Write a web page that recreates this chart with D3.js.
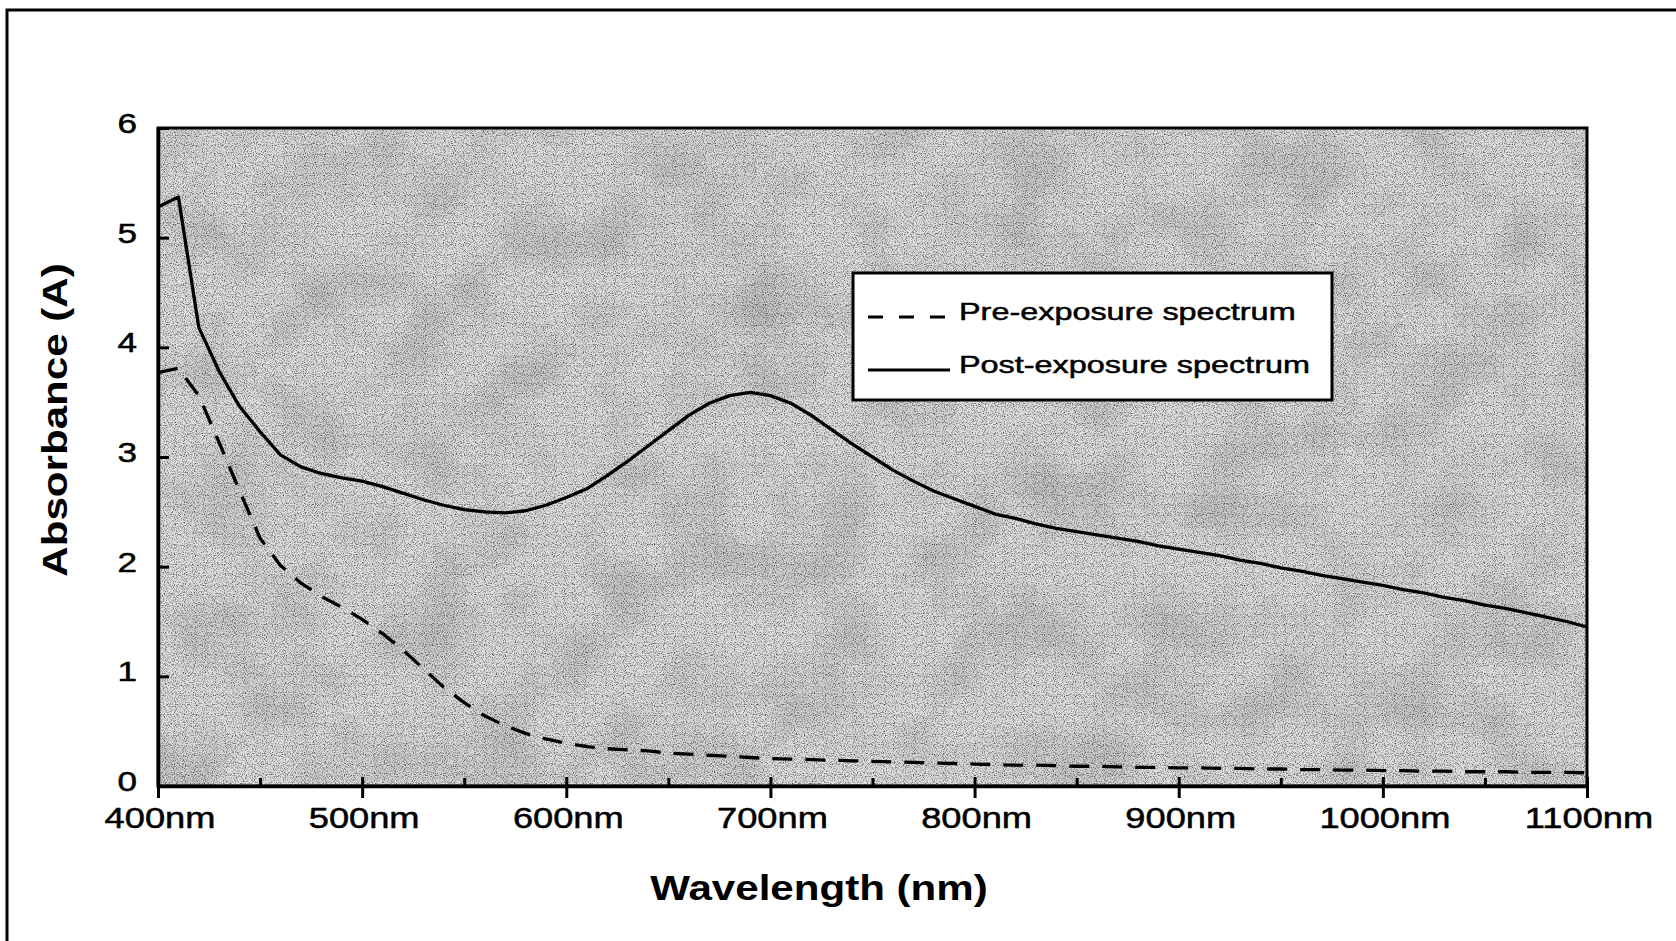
<!DOCTYPE html>
<html>
<head>
<meta charset="utf-8">
<script src="https://cdn.jsdelivr.net/npm/d3@7/dist/d3.min.js"></script>
<style>
  html, body { margin: 0; padding: 0; background: #ffffff; }
  svg { display: block; }
  text { font-family: "Liberation Sans", Arial, Helvetica, sans-serif; fill: #000; }
  .heavy { stroke: #000; stroke-width: 0.5px; }
</style>
</head>
<body>
<svg id="chart" width="1676" height="941"></svg>
<script>
// Wavelength grid (nm)
const wavelengths = [
  400, 410, 420, 430, 440, 450, 460, 470, 480, 490,
  500, 510, 520, 530, 540, 550, 560, 570, 580, 590,
  600, 610, 620, 630, 640, 650, 660, 670, 680, 690,
  700, 710, 720, 730, 740, 750, 760, 770, 780, 790,
  800, 810, 820, 830, 840, 850, 860, 870, 880, 890,
  900, 910, 920, 930, 940, 950, 960, 970, 980, 990,
  1000, 1010, 1020, 1030, 1040, 1050, 1060, 1070, 1080, 1090,
  1100
];

// Absorbance before exposure
const preExposure = [
  3.77, 3.81, 3.56, 3.13, 2.69, 2.26, 2.01, 1.85, 1.73, 1.63,
  1.52, 1.39, 1.24, 1.07, 0.90, 0.76, 0.64, 0.55, 0.48, 0.43,
  0.39, 0.36, 0.34, 0.33, 0.32, 0.30, 0.29, 0.28, 0.27, 0.26,
  0.25, 0.245, 0.24, 0.235, 0.23, 0.225, 0.22, 0.215, 0.21, 0.205,
  0.20, 0.195, 0.19, 0.19, 0.185, 0.18, 0.18, 0.175, 0.17, 0.17,
  0.165, 0.165, 0.16, 0.16, 0.155, 0.155, 0.15, 0.15, 0.145, 0.145,
  0.14, 0.14, 0.135, 0.135, 0.13, 0.13, 0.13, 0.125, 0.125, 0.125,
  0.12
];

// Absorbance after exposure
const postExposure = [
  5.28, 5.37, 4.18, 3.78, 3.46, 3.23, 3.02, 2.91, 2.85, 2.81,
  2.78, 2.73, 2.67, 2.61, 2.56, 2.52, 2.50, 2.49, 2.51, 2.56,
  2.63, 2.71, 2.83, 2.96, 3.10, 3.24, 3.38, 3.49, 3.56, 3.59,
  3.56, 3.49, 3.38, 3.25, 3.12, 3.00, 2.88, 2.78, 2.69, 2.62,
  2.55, 2.48, 2.44, 2.39, 2.35, 2.32, 2.29, 2.26, 2.23, 2.19,
  2.16, 2.13, 2.10, 2.06, 2.03, 1.99, 1.96, 1.92, 1.89, 1.86,
  1.83, 1.79, 1.76, 1.72, 1.69, 1.65, 1.62, 1.58, 1.54, 1.50,
  1.45
];

const xMajorTicks = [400, 500, 600, 700, 800, 900, 1000, 1100];
const xMinorTicks = [450, 550, 650, 750, 850, 950, 1050];
const xTickLabels = ["400nm", "500nm", "600nm", "700nm", "800nm", "900nm", "1000nm", "1100nm"];
const yTicks = [0, 1, 2, 3, 4, 5, 6];
const seriesNames = ["Pre-exposure spectrum", "Post-exposure spectrum"];
const xTitle = "Wavelength (nm)";
const yTitle = "Absorbance (A)";

const svg = d3.select("#chart");

// Plot area
const plot = { left: 158, right: 1587, top: 128, bottom: 786 };
const x = d3.scaleLinear().domain([400, 1100]).range([plot.left, plot.right]);
const y = d3.scaleLinear().domain([0, 6]).range([plot.bottom, plot.top]);

// Stippled grey fill for the plotting area
const defs = svg.append("defs");
const grain = defs.append("filter").attr("id", "grain")
  .attr("x", 0).attr("y", 0).attr("width", "100%").attr("height", "100%");
grain.append("feTurbulence").attr("type", "fractalNoise")
  .attr("baseFrequency", 0.9).attr("numOctaves", 1).attr("seed", 7).attr("result", "fine");
grain.append("feColorMatrix").attr("in", "fine").attr("type", "matrix")
  .attr("values", "0 0 0 0 0  0 0 0 0 0  0 0 0 0 0  2.0 0 0 0 -0.93").attr("result", "dots");
grain.append("feTurbulence").attr("type", "fractalNoise")
  .attr("baseFrequency", 0.015).attr("numOctaves", 2).attr("seed", 11).attr("result", "coarse");
grain.append("feColorMatrix").attr("in", "coarse").attr("type", "matrix")
  .attr("values", "0 0 0 0 0  0 0 0 0 0  0 0 0 0 0  0.25 0 0 0 -0.1").attr("result", "blotch");
grain.append("feMerge").selectAll("feMergeNode")
  .data(["blotch", "dots"]).join("feMergeNode").attr("in", d => d);

svg.append("rect")
  .attr("x", x(400)).attr("y", y(6))
  .attr("width", x(1100) - x(400)).attr("height", y(0) - y(6))
  .attr("fill", "#e0e0e0");
svg.append("rect")
  .attr("x", x(400)).attr("y", y(6))
  .attr("width", x(1100) - x(400)).attr("height", y(0) - y(6))
  .attr("fill", "#000").attr("filter", "url(#grain)");

// Outer figure frame (top and left edges visible)
svg.append("path")
  .attr("d", "M7,941 L7,10 L1676,10")
  .attr("fill", "none").attr("stroke", "#000").attr("stroke-width", 3);

// Plot border
svg.append("rect")
  .attr("x", x(400)).attr("y", y(6))
  .attr("width", x(1100) - x(400)).attr("height", y(0) - y(6))
  .attr("fill", "none").attr("stroke", "#000").attr("stroke-width", 3);

// X axis: major ticks cross the axis, minor ticks point inward
const xAxisMajor = svg.append("g")
  .attr("transform", `translate(0,${plot.bottom})`)
  .call(d3.axisBottom(x).tickValues(xMajorTicks).tickSizeInner(12).tickSizeOuter(0).tickFormat(""));
xAxisMajor.select(".domain").attr("stroke", "#000").attr("stroke-width", 3.5);
xAxisMajor.selectAll(".tick line").attr("y1", -9).attr("stroke", "#000").attr("stroke-width", 3);

const xAxisMinor = svg.append("g")
  .attr("transform", `translate(0,${plot.bottom})`)
  .call(d3.axisTop(x).tickValues(xMinorTicks).tickSizeInner(8).tickSizeOuter(0).tickFormat(""));
xAxisMinor.select(".domain").remove();
xAxisMinor.selectAll(".tick line").attr("stroke", "#000").attr("stroke-width", 3);

// Y axis ticks cross the axis
const yAxis = svg.append("g")
  .attr("transform", `translate(${plot.left},0)`)
  .call(d3.axisLeft(y).tickValues(yTicks).tickSizeInner(10).tickSizeOuter(0).tickFormat(""));
yAxis.select(".domain").attr("stroke", "#000").attr("stroke-width", 3.5);
yAxis.selectAll(".tick line").attr("x2", 11).attr("stroke", "#000").attr("stroke-width", 3);

// Tick labels (wide, horizontally stretched lettering)
svg.append("g").selectAll("text")
  .data(xMajorTicks)
  .join("text")
  .attr("class", "heavy")
  .attr("transform", d => `translate(${x(d) + 2},828) scale(1.25,1)`)
  .attr("text-anchor", "middle")
  .attr("font-size", 29)
  .text((d, i) => xTickLabels[i]);

svg.append("g").selectAll("text")
  .data(yTicks)
  .join("text")
  .attr("class", "heavy")
  .attr("transform", d => `translate(137,${y(d) + 5}) scale(1.3,1)`)
  .attr("text-anchor", "end")
  .attr("font-size", 27)
  .text(d => d);

// Axis titles
svg.append("text")
  .attr("transform", "translate(819,900) scale(1.17,1)")
  .attr("text-anchor", "middle")
  .attr("font-size", 36).attr("font-weight", "bold")
  .text(xTitle);

svg.append("text")
  .attr("transform", "translate(67,420) rotate(-90) scale(1.17,1)")
  .attr("text-anchor", "middle")
  .attr("font-size", 36).attr("font-weight", "bold")
  .text(yTitle);

// Spectra
const series = [
  { name: seriesNames[0], values: preExposure, dash: "20,13" },
  { name: seriesNames[1], values: postExposure, dash: null }
];
const line = d3.line()
  .x((d, i) => x(wavelengths[i]))
  .y(d => y(d))
  .curve(d3.curveLinear);

svg.append("g").selectAll("path")
  .data(series)
  .join("path")
  .attr("d", d => line(d.values))
  .attr("fill", "none")
  .attr("stroke", "#000")
  .attr("stroke-width", 3.3)
  .attr("stroke-linejoin", "round")
  .attr("stroke-dasharray", d => d.dash);

// Legend
const legend = svg.append("g");
legend.append("rect")
  .attr("x", 853).attr("y", 273).attr("width", 479).attr("height", 127)
  .attr("fill", "#fff").attr("stroke", "#000").attr("stroke-width", 3);
const legendRows = legend.selectAll("g.row")
  .data(series)
  .join("g").attr("class", "row")
  .attr("transform", (d, i) => `translate(0,${i * 53})`);
legendRows.append("line")
  .attr("x1", 868).attr("x2", 950).attr("y1", 317).attr("y2", 317)
  .attr("stroke", "#000").attr("stroke-width", 3)
  .attr("stroke-dasharray", d => d.dash ? "15,16" : null);
legendRows.append("text")
  .attr("class", "heavy")
  .attr("transform", "translate(959,320) scale(1.35,1)")
  .attr("font-size", 24)
  .text(d => d.name);
</script>
</body>
</html>
